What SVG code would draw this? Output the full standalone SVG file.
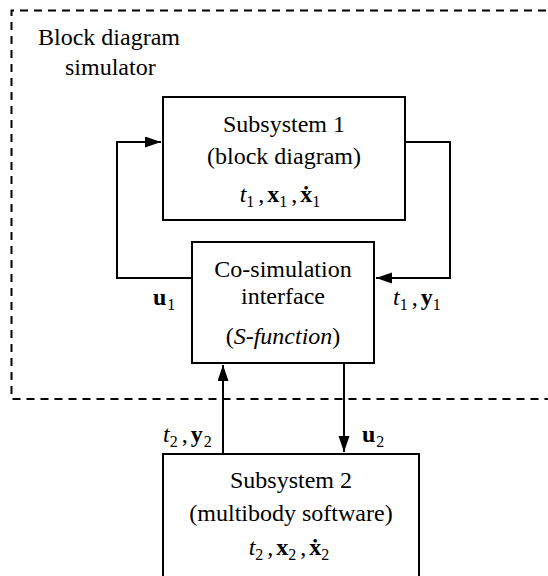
<svg xmlns="http://www.w3.org/2000/svg" width="548" height="576" viewBox="0 0 548 576" font-family="Liberation Serif, Times New Roman, serif">
<style>
text{font-family:'Liberation Serif','Times New Roman',serif;font-size:24px;fill:#000}
.c{text-anchor:middle}
.box{fill:#fff;stroke:#000;stroke-width:2}
.ln{fill:none;stroke:#000;stroke-width:2}
.i{font-style:italic}
.b{font-weight:bold}
.s{font-size:16px}
</style>
<defs>
<marker id="ah" markerUnits="userSpaceOnUse" markerWidth="17" markerHeight="12" refX="16" refY="5.5" orient="auto">
<path d="M0,0 L16,5.5 L0,11 Z" fill="#000"/>
</marker>
</defs>
<g id="simulator-boundary">
<path d="M560,10.5 H11.5 V399 H560" fill="none" stroke="#000" stroke-width="2" stroke-dasharray="8 6"/>
<text x="38" y="45">Block diagram</text>
<text x="65" y="75">simulator</text>
</g>
<g id="connectors">
<polyline class="ln" points="192,278 117,278 117,142 161,142" marker-end="url(#ah)"/>
<polyline class="ln" points="405,142 450,142 450,278 376,278" marker-end="url(#ah)"/>
<line class="ln" x1="223" y1="454" x2="223" y2="365" marker-end="url(#ah)"/>
<line class="ln" x1="344" y1="363" x2="344" y2="452" marker-end="url(#ah)"/>
<text x="153" y="305"><tspan class="b">u</tspan><tspan class="s" dx="1" dy="5">1</tspan></text>
<text x="393" y="305"><tspan class="i">t</tspan><tspan class="s" dy="5">1</tspan><tspan dx="4" dy="-5">,</tspan><tspan class="b" dx="3">y</tspan><tspan class="s" dy="5">1</tspan></text>
<text x="163" y="442"><tspan class="i">t</tspan><tspan class="s" dy="5">2</tspan><tspan dx="4" dy="-5">,</tspan><tspan class="b" dx="3">y</tspan><tspan class="s" dx="1" dy="5">2</tspan></text>
<text x="362" y="442"><tspan class="b">u</tspan><tspan class="s" dx="1" dy="5">2</tspan></text>
</g>
<g id="subsystem1">
<rect class="box" x="163" y="97" width="242" height="123"/>
<text class="c" x="284" y="132">Subsystem 1</text>
<text class="c" x="284" y="164">(block diagram)</text>
<text class="c" x="280" y="202"><tspan class="i">t</tspan><tspan class="s" dy="5">1</tspan><tspan dx="4" dy="-5">,</tspan><tspan class="b" dx="3">x</tspan><tspan class="s" dy="5">1</tspan><tspan dx="4" dy="-5">,</tspan><tspan class="b" dx="3">ẋ</tspan><tspan class="s" dy="5">1</tspan></text>
</g>
<g id="cosim-interface">
<rect class="box" x="192" y="242" width="182" height="121"/>
<text class="c" x="283" y="277">Co-simulation</text>
<text class="c" x="283" y="304">interface</text>
<text class="c" x="283" y="344">(<tspan class="i">S-function</tspan>)</text>
</g>
<g id="subsystem2">
<rect class="box" x="163" y="454" width="256" height="140"/>
<text class="c" x="291" y="488">Subsystem 2</text>
<text class="c" x="291" y="521">(multibody software)</text>
<text class="c" x="289" y="555"><tspan class="i">t</tspan><tspan class="s" dy="5">2</tspan><tspan dx="4" dy="-5">,</tspan><tspan class="b" dx="3">x</tspan><tspan class="s" dy="5">2</tspan><tspan dx="4" dy="-5">,</tspan><tspan class="b" dx="3">ẋ</tspan><tspan class="s" dy="5">2</tspan></text>
</g>
</svg>
